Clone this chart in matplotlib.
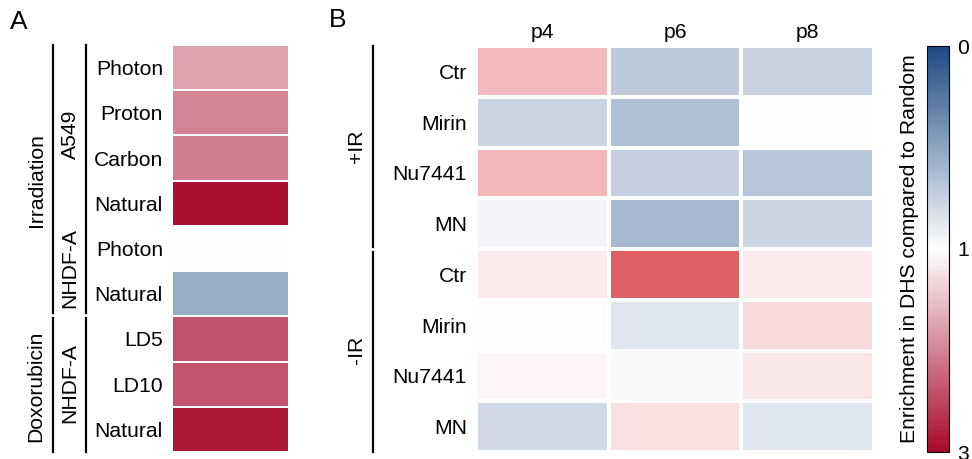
import numpy as np
import matplotlib
matplotlib.use("Agg")
import matplotlib.pyplot as plt
from matplotlib.colors import LinearSegmentedColormap, TwoSlopeNorm
from matplotlib.lines import Line2D

plt.rcParams['font.family'] = ['Liberation Sans', 'DejaVu Sans']

# panel A: one column, nine conditions
a_rows = ["Photon", "Proton", "Carbon", "Natural", "Photon", "Natural", "LD5", "LD10", "Natural"]
a_vals = [1.75, 2.0, 2.06, 2.95, 1.0, 0.54, 2.4, 2.38, 2.88]

# panel B: treatments x passages
b_cols = ["p4", "p6", "p8"]
b_rows = ["Ctr", "Mirin", "Nu7441", "MN", "Ctr", "Mirin", "Nu7441", "MN"]
b_plus_ir = [[1.55, 0.71, 0.75],
             [0.76, 0.65, 0.99],
             [1.58, 0.74, 0.68],
             [0.94, 0.61, 0.77]]
b_minus_ir = [[1.16, 2.30, 1.16],
              [0.99, 0.86, 1.31],
              [1.08, 0.97, 1.20],
              [0.79, 1.26, 0.86]]

W, H = 972, 459
fig = plt.figure(figsize=(W / 100, H / 100), dpi=100)


def fx(x):
    return x / W


def fy(y):
    return 1 - y / H


def box(x0, x1, y0, y1):
    return [fx(x0), fy(y1), (x1 - x0) / W, (y1 - y0) / H]


cmap_a = LinearSegmentedColormap.from_list("a", ["#1d4a84", "#ffffff", "#a8092a"])
cmap_b = LinearSegmentedColormap.from_list("b", ["#1d4a84", "#ffffff", "#cc0c14"])
norm = TwoSlopeNorm(vmin=0, vcenter=1, vmax=3)
FS = 15.2

# ---- panel A
axA = fig.add_axes(box(172, 289, 45, 452))
A = np.array(a_vals).reshape(-1, 1)
axA.pcolormesh(A, cmap=cmap_a, norm=norm, edgecolors="white", linewidth=1.2)
axA.set_ylim(len(a_rows), 0)
axA.set_xticks([])
axA.set_yticks(np.arange(len(a_rows)) + 0.5)
axA.set_yticklabels(a_rows, fontsize=FS)
axA.tick_params(axis="y", length=0, pad=6.5)
for s in axA.spines.values():
    s.set_visible(False)

# ---- panel B
axB = fig.add_axes(box(476, 874, 46, 452))
B = np.array(b_plus_ir + b_minus_ir)
axB.pcolormesh(B, cmap=cmap_b, norm=norm, edgecolors="white", linewidth=1.5)
axB.set_ylim(len(b_rows), 0)
axB.set_xticks(np.arange(len(b_cols)) + 0.5)
axB.set_xticklabels(b_cols, fontsize=FS)
axB.xaxis.tick_top()
axB.set_yticks(np.arange(len(b_rows)) + 0.5)
axB.set_yticklabels(b_rows, fontsize=FS)
axB.tick_params(length=0)
axB.tick_params(axis="y", pad=6.5)
axB.tick_params(axis="x", pad=3)
for s in axB.spines.values():
    s.set_visible(False)

# ---- colorbar
cax = fig.add_axes(box(927, 949, 46, 452))
sm = plt.cm.ScalarMappable(cmap=cmap_a, norm=norm)
cb = fig.colorbar(sm, cax=cax, ticks=[0, 1, 3])
cb.ax.invert_yaxis()
cb.ax.tick_params(length=0, labelsize=FS, pad=6)
cb.outline.set_linewidth(0.8)
cb.ax.yaxis.set_label_position("left")
cb.set_label("Enrichment in DHS compared to Random", fontsize=FS, labelpad=6)


# ---- brackets and group labels
def vline(x, y0, y1):
    fig.add_artist(Line2D([fx(x), fx(x)], [fy(y0), fy(y1)], color="black", lw=1.6))


def vtext(x, y, s):
    fig.text(fx(x), fy(y), s, rotation=90, ha="center", va="center", fontsize=FS)


vline(53, 45, 313)
vline(53, 318, 452)
vline(86, 45, 224)
vline(86, 226, 313)
vline(86, 318, 452)
vtext(36, 180, "Irradiation")
vtext(36, 386, "Doxorubicin")
vtext(70, 134, "A549")
vtext(70, 268, "NHDF-A")
vtext(70, 383, "NHDF-A")

vline(373, 46, 247)
vline(373, 252, 452)
vtext(356, 146, "+IR")
vtext(356, 350, "-IR")

fig.text(fx(10), fy(22), "A", fontsize=19, va="center", ha="left")
fig.text(fx(329), fy(20), "B", fontsize=19, va="center", ha="left")

fig.savefig("out.png", dpi=100)
